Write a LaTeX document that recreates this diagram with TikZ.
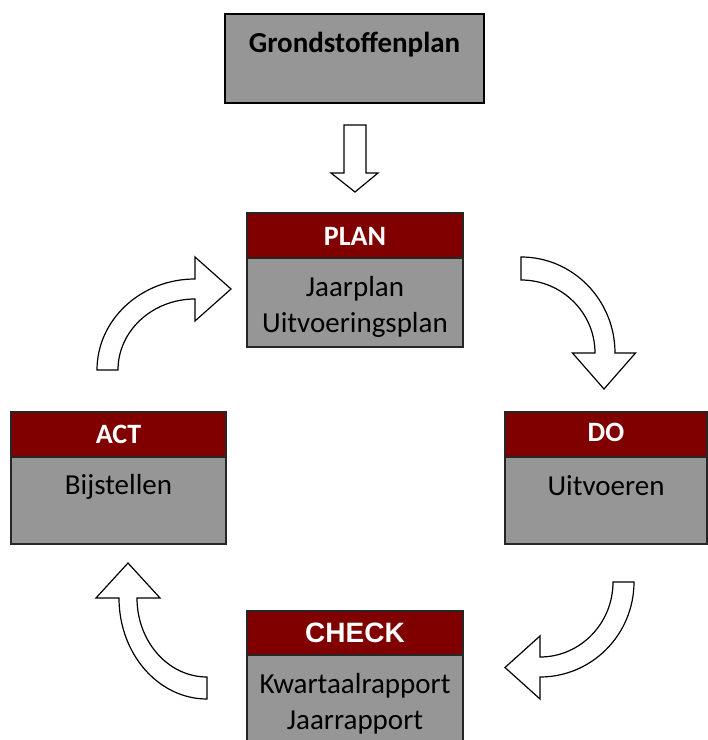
\documentclass[tikz,border=0pt]{standalone}
\usepackage{fontspec}
\setmainfont{Carlito}
\newfontfamily\arialfont{Liberation Sans}
\definecolor{boxgray}{RGB}{150,150,150}
\definecolor{hdrred}{RGB}{128,0,0}
\tikzset{
  boxline/.style={draw=black!85, line width=1.5pt, inner sep=0pt, outer sep=0pt, anchor=north west},
  hdrbox/.style={boxline, fill=hdrred},
  bodybox/.style={boxline, fill=boxgray},
  hdrtext/.style={anchor=base, inner sep=0pt, text=white, font=\fontsize{28}{34}\selectfont\bfseries},
  bodytext/.style={anchor=base, inner sep=0pt, text=black, font=\fontsize{29}{36}\selectfont},
  blockarrow/.style={draw=black, line width=1.2pt, fill=white, line join=miter}
}
\begin{document}
\begin{tikzpicture}[x=1pt,y=1pt]
\useasboundingbox (0,0) rectangle (708,740);
\clip (0,0) rectangle (708,740);
% Grondstoffenplan
\node[bodybox, draw=black, minimum width=259pt, minimum height=89pt] (grond) at (225,726) {};
\node[anchor=base, inner sep=0pt, font=\fontsize{29}{34}\selectfont\bfseries] (grondt) at (354.5,687) {Grondstoffenplan};
% PLAN
\node[hdrbox, minimum width=216pt, minimum height=45pt] (planh) at (247,527) {};
\node[bodybox, minimum width=216pt, minimum height=89pt] (planb) at (247,482) {};
\node[hdrtext] (plant) at (355,494) {PLAN};
\node[bodytext] (plan1) at (355,443) {Jaarplan};
\node[bodytext] (plan2) at (355,407) {Uitvoeringsplan};
% ACT
\node[hdrbox, minimum width=215pt, minimum height=45pt] (acth) at (11,328) {};
\node[bodybox, minimum width=215pt, minimum height=87pt] (actb) at (11,283) {};
\node[hdrtext] (actt) at (118.5,296) {ACT};
\node[bodytext] (act1) at (118.5,245) {Bijstellen};
% DO
\node[hdrbox, minimum width=202pt, minimum height=45pt] (doh) at (505,328) {};
\node[bodybox, minimum width=202pt, minimum height=87pt] (dob) at (505,283) {};
\node[hdrtext] (dot) at (606,298) {DO};
\node[bodytext] (do1) at (606,244) {Uitvoeren};
% CHECK
\node[hdrbox, minimum width=216pt, minimum height=44pt] (checkh) at (247,129) {};
\node[bodybox, minimum width=216pt, minimum height=120pt] (checkb) at (247,85) {};
\node[hdrtext, font=\arialfont\fontsize{28}{34}\selectfont\bfseries] (checkt) at (355,97) {CHECK};
\node[bodytext] (check1) at (355,46) {Kwartaalrapport};
\node[bodytext] (check2) at (355,10) {Jaarrapport};
% arrows
\draw[blockarrow] (344,615) -- (366,615) -- (366,567) -- (378,567) -- (355,548) -- (331,567) -- (344,567) -- cycle;
\draw[blockarrow] (97,370) arc[start angle=180,end angle=90,x radius=98,y radius=91]
  -- (195,483) -- (231,451) -- (195,419) -- (195,441)
  arc[start angle=90,end angle=180,x radius=77,y radius=71] -- cycle;
\draw[blockarrow] (521,483) arc[start angle=90,end angle=0,x radius=94,y radius=96]
  -- (635.5,387) -- (604,351) -- (572.5,387) -- (595,387)
  arc[start angle=0,end angle=90,x radius=74,y radius=73] -- cycle;
\draw[blockarrow] (634,158) arc[start angle=0,end angle=-90,x radius=94,y radius=95]
  -- (540,41) -- (505,72.5) -- (540,104) -- (540,83)
  arc[start angle=-90,end angle=0,x radius=73,y radius=75] -- cycle;
\draw[blockarrow] (207,41) arc[start angle=270,end angle=180,x radius=88,y radius=101]
  -- (96,142) -- (128,177) -- (160,142) -- (137,142)
  arc[start angle=180,end angle=270,x radius=70,y radius=79] -- cycle;
\end{tikzpicture}
\end{document}
